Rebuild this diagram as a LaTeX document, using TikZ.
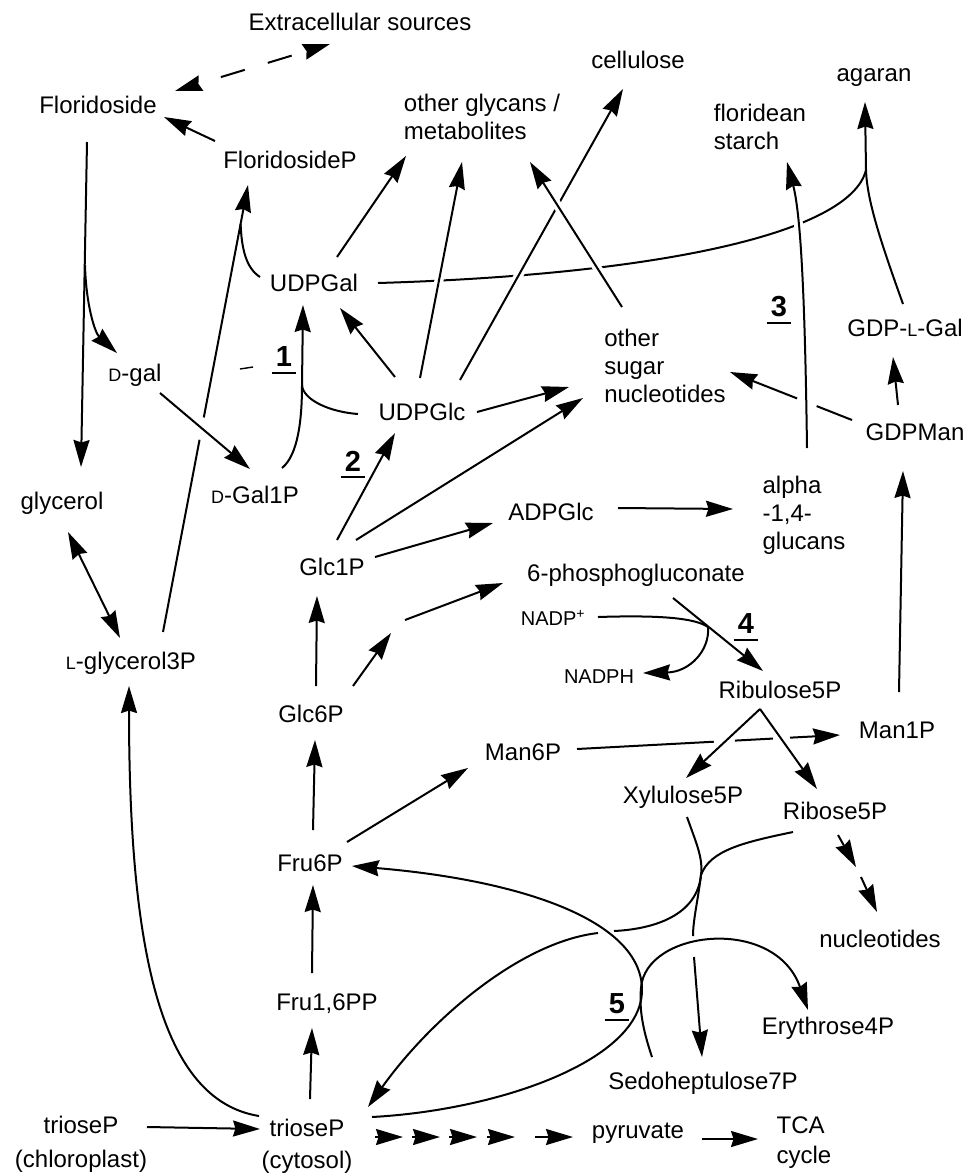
\documentclass[tikz,border=0pt]{standalone}
\usepackage{fontspec}
\setmainfont{Liberation Sans}
\usetikzlibrary{arrows.meta,calc}
\newcommand\smallcap[1]{{\fontsize{18}{18}\selectfont #1}}
\tikzset{
  lbl/.style={inner sep=0pt, font=\fontsize{24}{28}\selectfont, align=center},
  lbll/.style={lbl, align=left},
  smalltxt/.style={inner sep=0pt, font=\fontsize{20}{22}\selectfont},
  num/.style={inner sep=0pt, font=\fontsize{29}{30}\selectfont\bfseries},
  conn/.style={line width=2pt},
  arr/.style={conn, ->},
  over/.style={preaction={draw=white, line width=9pt, shorten >=14pt, shorten <=14pt, arrows=-}},
}
\begin{document}
\begin{tikzpicture}[x=1pt,y=-1pt, >={Stealth[length=27pt,width=16pt,inset=2.5pt]}]
\path[use as bounding box, fill=white] (0,0) rectangle (971,1176);

% ---------- nodes ----------
\node[lbl] (ext) at (360,22) {Extracellular sources};
\node[lbl] (flo) at (98,105) {Floridoside};
\node[lbl] (floP) at (290,160) {FloridosideP};
\node[lbll] (ogly) at (482,117) {other glycans /\\metabolites};
\node[lbl] (cell) at (638,60) {cellulose};
\node[lbl] (agar) at (874,78) {agaran};
\node[lbll] (fstar) at (760,127) {floridean\\starch};
\node[lbl] (udpgal) at (314,283) {UDPGal};
\node[num] (n3) at (779,307) {3};
\node[lbl] (gdplgal) at (905,328) {GDP-\smallcap{L}-Gal};
\node[lbl] (dgal) at (135,375) {\smallcap{D}-gal};
\node[num] (n1) at (284,357) {1};
\node[lbl] (udpglc) at (422,412) {UDPGlc};
\node[lbll] (osn) at (665,366) {other\\sugar\\nucleotides};
\node[lbl] (gdpman) at (915,432) {GDPMan};
\node[num] (n2) at (353,461) {2};
\node[lbl] (dgal1p) at (255,495) {\smallcap{D}-Gal1P};
\node[lbl] (glyc) at (62,503) {glycerol};
\node[lbl] (adpglc) at (551,512) {ADPGlc};
\node[lbll] (alpha) at (804,515) {alpha\\-1,4-\\glucans};
\node[lbl] (glc1p) at (332,567) {Glc1P};
\node[lbl] (pg) at (636,575) {6-phosphogluconate};
\node[smalltxt] (nadpp) at (553,618) {NADP\textsuperscript{+}};
\node[num] (n4) at (746,624) {4};
\node[smalltxt] (nadph) at (599,677) {NADPH};
\node[lbl] (ru5p) at (780,690) {Ribulose5P};
\node[lbl] (lg3p) at (131,663) {\smallcap{L}-glycerol3P};
\node[lbl] (glc6p) at (311,714) {Glc6P};
\node[lbl] (man6p) at (523,752) {Man6P};
\node[lbl] (man1p) at (897,730) {Man1P};
\node[lbl] (xu5p) at (683,797) {Xylulose5P};
\node[lbl] (r5p) at (835,811) {Ribose5P};
\node[lbl] (fru6p) at (310,863) {Fru6P};
\node[lbl] (nucl) at (880,939) {nucleotides};
\node[lbl] (fbp) at (327,1004) {Fru1,6PP};
\node[num] (n5) at (617,1004) {5};
\node[lbl] (e4p) at (828,1028) {Erythrose4P};
\node[lbl] (s7p) at (703,1083) {Sedoheptulose7P};
\node[lbl, font=\fontsize{24}{34}\selectfont] (tpc) at (81,1144) {trioseP\\(chloroplast)};
\node[lbl, font=\fontsize{24}{32}\selectfont] (tpy) at (307,1146) {trioseP\\(cytosol)};
\node[lbl] (pyr) at (638,1133) {pyruvate};
\node[lbll, font=\fontsize{24}{30}\selectfont] (tca) at (804,1143) {TCA\\cycle};

\foreach \n in {n1,n2,n3,n4,n5}
  \draw[line width=2.4pt] ($(\n.base west)+(-4,6)$) -- ($(\n.base east)+(4,6)$);

% ---------- top left ----------
\draw[conn, <->, dash pattern=on 25pt off 24pt, dash phase=25pt]
  ($(flo)+(77,-14)$) -- ($(ext)+(-30,22)$);
\draw[arr] ($(floP)+(-75,-19)$) -- ($(flo)+(66,12)$);
\draw[arr] ($(flo)+(-11,37)$) -- ($(glyc)+(19,-36)$);
\draw[arr] ($(flo)+(-13,160)$) .. controls ($(flo)+(-12,200)$) and ($(flo)+(-3,228)$) .. ($(dgal)+(-18,-22)$);
\draw[conn, line width=1.4pt] ($(n1)+(-44,12)$) -- ($(n1)+(-31,10)$);

% L-glycerol3P -> FloridosideP (with gap)
\coordinate (a7s) at ($(lg3p)+(32,-31)$);
\coordinate (a7e) at ($(floP)+(-42,25)$);
\coordinate (m2) at ($(a7s)!0.913!(a7e)$);
\draw[conn] (a7s) -- ($(a7s)!0.43!(a7e)$);
\draw[arr] ($(a7s)!0.48!(a7e)$) -- (a7e);
\draw[conn] ($(udpgal)+(-54,-6)$) .. controls ($(udpgal)+(-68,-15)$) and ($(m2)+(1,25)$) .. (m2);

\draw[arr] ($(dgal)+(25,18)$) -- ($(dgal1p)+(-5,-26)$);

% D-Gal1P + UDPGlc -> UDPGal
\coordinate (m1) at ($(udpgal)+(-12,102)$);
\draw[arr] ($(dgal1p)+(27,-27)$) .. controls ($(dgal1p)+(43,-40)$) and ($(m1)+(0,35)$) .. (m1) -- ($(udpgal)+(-11,22)$);
\draw[conn] ($(udpglc)+(-64,2)$) .. controls ($(udpglc)+(-92,0)$) and ($(m1)+(1,15)$) .. (m1);

\draw[conn, <->] ($(lg3p)+(-11,-25)$) -- ($(glyc)+(6,29)$);
\draw[arr] ($(tpy)+(-48,-30)$) .. controls ($(tpy)+(-147,-46)$) and ($(lg3p)+(-2,287)$) .. ($(lg3p)+(-2,23)$);

% ---------- UDPGal -> agaran, GDP-L-Gal -> agaran ----------
\coordinate (m3) at ($(agar)+(-8,92)$);
\draw[conn] ($(udpgal)+(64,0)$) .. controls ($(udpgal)+(336,-8)$) and ($(m3)+(-16,65)$) .. (m3);
\draw[arr] ($(gdplgal)+(-2,-24)$) .. controls ($(gdplgal)+(-25,-88)$) and ($(m3)+(1,30)$) .. (m3) -- ($(agar)+(-9,24)$);

% ---------- sugar nucleotides ----------
\draw[arr] ($(udpgal)+(23,-26)$) -- ($(ogly)+(-76,39)$);
\draw[arr, over] ($(udpglc)+(-2,-34)$) -- ($(ogly)+(-20,45)$);
\draw[arr, over] ($(udpglc)+(38,-32)$) -- ($(cell)+(-15,29)$);
\draw[arr, over] ($(osn)+(-43,-59)$) -- ($(ogly)+(48,45)$);
\draw[arr] ($(udpglc)+(-27,-35)$) -- ($(udpgal)+(26,25)$);
\draw[arr] ($(udpglc)+(55,0)$) -- ($(osn)+(-96,21)$);
\draw[arr] ($(glc1p)+(24,-27)$) -- ($(osn)+(-82,32)$);
\draw[arr] ($(glc1p)+(5,-27)$) -- ($(udpglc)+(-27,21)$);
\draw[arr] ($(glc1p)+(43,-10)$) -- ($(adpglc)+(-58,11)$);
\draw[arr] ($(adpglc)+(67,-4)$) -- ($(alpha)+(-71,-6)$);
\draw[arr, over] ($(alpha)+(3,-67)$) .. controls ($(alpha)+(1,-215)$) and ($(fstar)+(41,88)$) .. ($(fstar)+(27,35)$);

\coordinate (a21s) at ($(gdpman)+(-63,-12)$);
\coordinate (a21e) at ($(osn)+(65,6)$);
\draw[conn] (a21s) -- ($(a21s)!0.29!(a21e)$);
\draw[arr] ($(a21s)!0.45!(a21e)$) -- (a21e);
\draw[arr] ($(gdpman)+(-17,-27)$) -- ($(gdplgal)+(-12,29)$);
\draw[arr] ($(man1p)+(2,-38)$) -- ($(gdpman)+(-12,39)$);

% ---------- pentose phosphate ----------
\draw[arr] ($(pg)+(37,23)$) -- ($(ru5p)+(-17,-19)$);
\coordinate (m4) at ($(pg)+(72,52)$);
\draw[arr] ($(nadpp)+(45,-1)$) .. controls ($(nadpp)+(107,-3)$) and ($(m4)+(-13,-9)$) .. (m4)
  .. controls ($(m4)+(2,23)$) and ($(m4)+(-18,45)$) .. ($(nadph)+(44,-4)$);

\draw[arr] ($(glc6p)+(5,-28)$) -- ($(glc1p)+(-15,29)$);
\coordinate (lac) at ($(glc6p)+(87,-87)$);
\draw[arr] ($(glc6p)+(42,-28)$) -- ($(lac)+(-7,6)$);
\draw[arr] ($(lac)+(7,-7)$) -- ($(pg)+(-133,8)$);
\draw[arr] ($(fru6p)+(3,-33)$) -- ($(glc6p)+(4,26)$);
\draw[arr] ($(fru6p)+(37,-21)$) -- ($(man6p)+(-55,16)$);

\coordinate (a32s) at ($(man6p)+(54,-3)$);
\coordinate (a32e) at ($(man1p)+(-57,5)$);
\draw[conn] (a32s) -- ($(a32s)!0.52!(a32e)$);
\draw[conn] ($(a32s)!0.60!(a32e)$) -- ($(a32s)!0.745!(a32e)$);
\draw[arr] ($(a32s)!0.81!(a32e)$) -- (a32e);

\coordinate (m5) at ($(ru5p)+(-20,19)$);
\draw[arr] (m5) -- ($(xu5p)+(3,-19)$);
\draw[arr] (m5) -- ($(r5p)+(-18,-22)$);

\coordinate (nm) at ($(r5p)+(24,61)$);
\draw[arr] ($(r5p)+(3,24)$) -- ($(nm)+(-3,-5)$);
\draw[arr] ($(nm)+(2,5)$) -- ($(nucl)+(-3,-27)$);

% ---------- transketolase / step 5 ----------
\coordinate (m6) at ($(xu5p)+(18,78)$);
\draw[conn] ($(xu5p)+(4,20)$) .. controls ($(xu5p)+(14,48)$) and ($(m6)+(2,-17)$) .. (m6)
  .. controls ($(m6)+(-3,25)$) and ($(m6)+(-8,45)$) .. ($(m6)+(-8,61)$);
\draw[arr] ($(m6)+(-7,82)$) -- ($(s7p)+(-1,-26)$);
\draw[conn] ($(r5p)+(-42,21)$) .. controls ($(r5p)+(-90,31)$) and ($(m6)+(9,-25)$) .. (m6)
  .. controls ($(m6)+(-4,40)$) and ($(m6)+(-46,54)$) .. ($(m6)+(-87,56)$);
\draw[arr] ($(m6)+(-103,58)$) .. controls ($(m6)+(-181,67)$) and ($(tpy)+(123,-126)$) .. ($(tpy)+(61,-39)$);

\coordinate (m7) at ($(n5)+(25,-14)$);
\draw[arr] ($(tpy)+(65,-29)$) .. controls ($(tpy)+(193,-36)$) and ($(m7)+(0,70)$) .. (m7)
  .. controls ($(m7)+(0,-70)$) and ($(fru6p)+(210,17)$) .. ($(fru6p)+(42,3)$);
\draw[arr] ($(s7p)+(-51,-26)$) .. controls ($(s7p)+(-60,-53)$) and ($(m7)+(-3,20)$) .. ($(m7)+(-1,-2)$)
  .. controls ($(m7)+(3,-60)$) and ($(e4p)+(-53,-113)$) .. ($(e4p)+(-20,-18)$);

% ---------- glycolysis ----------
\draw[arr] ($(tpy)+(3,-47)$) -- ($(fbp)+(-15,24)$);
\draw[arr] ($(fbp)+(-15,-31)$) -- ($(fru6p)+(3,22)$);
\draw[arr] ($(tpc)+(66,-17)$) -- ($(tpy)+(-47,-17)$);
\foreach \x in {96,133,170,208}
  \draw[arr] ($(tpy)+(\x,-9)+(-28,0)$) -- ($(tpy)+(\x,-9)$);
\draw[arr] ($(tpy)+(228,-9)$) -- ($(pyr)+(-65,4)$);
\draw[arr] ($(pyr)+(64,6)$) -- ($(tca)+(-46,-4)$);
\end{tikzpicture}
\end{document}
